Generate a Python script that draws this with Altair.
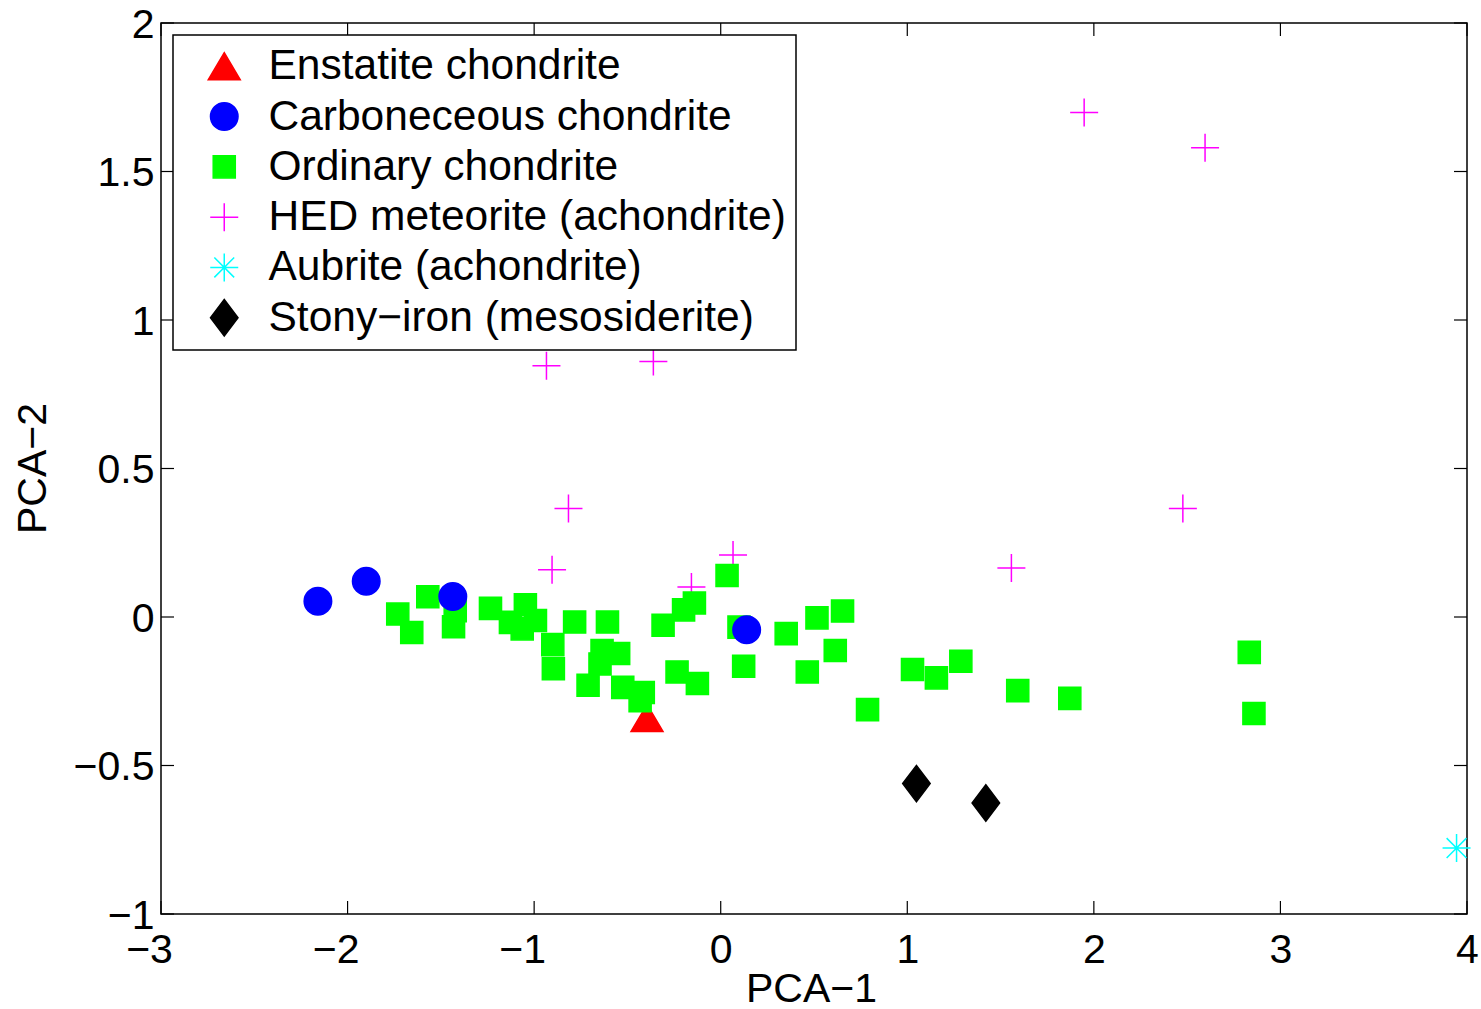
import altair as alt
import pandas as pd

# PCA scores per meteorite class
ens_x = [-0.395]
ens_y = [-0.340]

carb_x = [-2.159, -1.900, -1.436, 0.139]
carb_y = [0.053, 0.120, 0.069, -0.043]

ord_x = [-1.731, -1.656, -1.570, -1.423, -1.432, -1.234, -1.127, -1.047, -1.064, -0.993,
         -0.900, -0.897, -0.783, -0.607, -0.636, -0.547, -0.647, -0.711, -0.525, -0.415,
         -0.432, -0.309, -0.199, -0.141, 0.034, 0.098, 0.351, 0.516, 0.653, 0.614,
         0.464, 0.123, -0.234, -0.125, 0.787, 1.028, 1.156, 1.287, 1.592, 1.871,
         2.833, 2.858]
ord_y = [0.010, -0.052, 0.068, 0.021, -0.033, 0.029, -0.018, 0.041, -0.040, -0.012,
         -0.093, -0.174, -0.017, -0.017, -0.113, -0.123, -0.158, -0.230, -0.237, -0.254,
         -0.282, -0.028, 0.024, 0.047, 0.140, -0.034, -0.056, -0.003, 0.020, -0.113,
         -0.185, -0.166, -0.185, -0.224, -0.312, -0.177, -0.205, -0.149, -0.248, -0.274,
         -0.119, -0.325]

hed_x = [-0.904, 0.066, -0.157, 1.558, -0.934, -0.361, -0.816, 1.948, 2.596, 2.477]
hed_y = [0.159, 0.209, 0.101, 0.165, 0.846, 0.860, 0.365, 1.699, 1.580, 0.365]

aub_x = [3.944]
aub_y = [-0.778]

stony_x = [1.049, 1.421]
stony_y = [-0.561, -0.626]

classes = [
    "Enstatite chondrite",
    "Carboneceous chondrite",
    "Ordinary chondrite",
    "HED meteorite (achondrite)",
    "Aubrite (achondrite)",
    "Stony\u2212iron (mesosiderite)",
]
colors = ["#ff0000", "#0000ff", "#00ff00", "#ff00ff", "#00ffff", "#000000"]

# marker outlines, unit = sqrt(size)/2
tri = "M0,-0.85L1.0,0.85L-1.0,0.85Z"
circ = "M-0.86,0A0.86,0.86,0,1,1,0.86,0A0.86,0.86,0,1,1,-0.86,0Z"
sq = "M-0.69,-0.69H0.69V0.69H-0.69Z"
plus = "M-0.875,0H0.875M0,-0.875V0.875"
star = "M-0.875,0H0.875M0,-0.875V0.875M-0.62,-0.62L0.62,0.62M-0.62,0.62L0.62,-0.62"
diam = "M0,-1.14L0.86,0L0,1.14L-0.86,0Z"
shapes = [tri, circ, sq, plus, star, diam]

x_ticks = [-3, -2, -1, 0, 1, 2, 3, 4]
y_ticks = [-1, -0.5, 0, 0.5, 1, 1.5, 2]

# drawing order: green squares above pluses/triangle, circles on top
groups = [
    (classes[0], ens_x, ens_y),
    (classes[3], hed_x, hed_y),
    (classes[4], aub_x, aub_y),
    (classes[5], stony_x, stony_y),
    (classes[2], ord_x, ord_y),
    (classes[1], carb_x, carb_y),
]
rows = []
for name, xs_, ys_ in groups:
    for a, b in zip(xs_, ys_):
        rows.append({"PCA1": a, "PCA2": b, "type": name})
df = pd.DataFrame(rows)

W, H = 1306, 891
FONT = "Liberation Sans"
TL = 13

xs = alt.Scale(domain=[-3, 4], nice=False, zero=False)
ys = alt.Scale(domain=[-1, 2], nice=False, zero=False)

x_axis = alt.Axis(values=x_ticks, format="~g", labelPadding=48, labelBaseline="alphabetic",
                  labelFlush=False, labelOverlap=False,
                  labelOffset=alt.condition("datum.value < 0", alt.value(-12), alt.value(0)),
                  titleX=650, titleY=87, titleBaseline="alphabetic", titleAlign="center")
y_axis = alt.Axis(values=y_ticks, format="~g", labelPadding=7, labelOffset=2,
                  labelFlush=False, labelOverlap=False,
                  titleX=-116, titleY=445, titleBaseline="alphabetic", titleAlign="center",
                  titleAngle=270)

points = alt.Chart(df).mark_point(filled=True, size=1024, strokeWidth=1.5, opacity=1).encode(
    x=alt.X("PCA1:Q", scale=xs, title="PCA\u22121", axis=x_axis),
    y=alt.Y("PCA2:Q", scale=ys, title="PCA\u22122", axis=y_axis),
    fill=alt.Fill("type:N", scale=alt.Scale(domain=classes, range=colors), title=None),
    stroke=alt.Stroke("type:N", scale=alt.Scale(domain=classes, range=colors), title=None),
    shape=alt.Shape("type:N", scale=alt.Scale(domain=classes, range=shapes), title=None),
)

xt = pd.DataFrame({"v": x_ticks})
yt = pd.DataFrame({"v": y_ticks})

tick_bottom = alt.Chart(xt).mark_rule(color="black", strokeWidth=1.2).encode(
    x=alt.X("v:Q", scale=xs, title="PCA\u22121", axis=x_axis), y=alt.value(H), y2=alt.value(H - TL))
tick_top = alt.Chart(xt).mark_rule(color="black", strokeWidth=1.2).encode(
    x=alt.X("v:Q", scale=xs, title="PCA\u22121", axis=x_axis), y=alt.value(0), y2=alt.value(TL))
tick_left = alt.Chart(yt).mark_rule(color="black", strokeWidth=1.2).encode(
    y=alt.Y("v:Q", scale=ys, title="PCA\u22122", axis=y_axis), x=alt.value(0), x2=alt.value(TL))
tick_right = alt.Chart(yt).mark_rule(color="black", strokeWidth=1.2).encode(
    y=alt.Y("v:Q", scale=ys, title="PCA\u22122", axis=y_axis), x=alt.value(W), x2=alt.value(W - TL))

chart = alt.layer(tick_bottom, tick_top, tick_left, tick_right, points).properties(
    width=W, height=H,
    autosize=alt.AutoSizeParams(type="none"),
    padding={"left": 161, "top": 23, "right": 14, "bottom": 95},
    background="white",
).configure_view(
    stroke="black", strokeWidth=1.5
).configure_axis(
    grid=False, domain=False, ticks=False, tickSize=0,
    labelFont=FONT, labelFontSize=41, labelColor="black",
    titleFont=FONT, titleFontSize=41, titleFontWeight="normal", titleColor="black",
).configure_legend(
    orient="none", legendX=12, legendY=12, direction="vertical",
    padding=10, symbolOffset=20, labelOffset=23, rowPadding=7.3,
    strokeColor="black", strokeWidth=1.5, fillColor="white", cornerRadius=0,
    labelFont=FONT, labelFontSize=42.5, labelColor="black", labelLimit=1000,
    symbolSize=1024, symbolStrokeWidth=1.5,
)

chart.save("out.html", embed_options={"renderer": "svg", "actions": False})
